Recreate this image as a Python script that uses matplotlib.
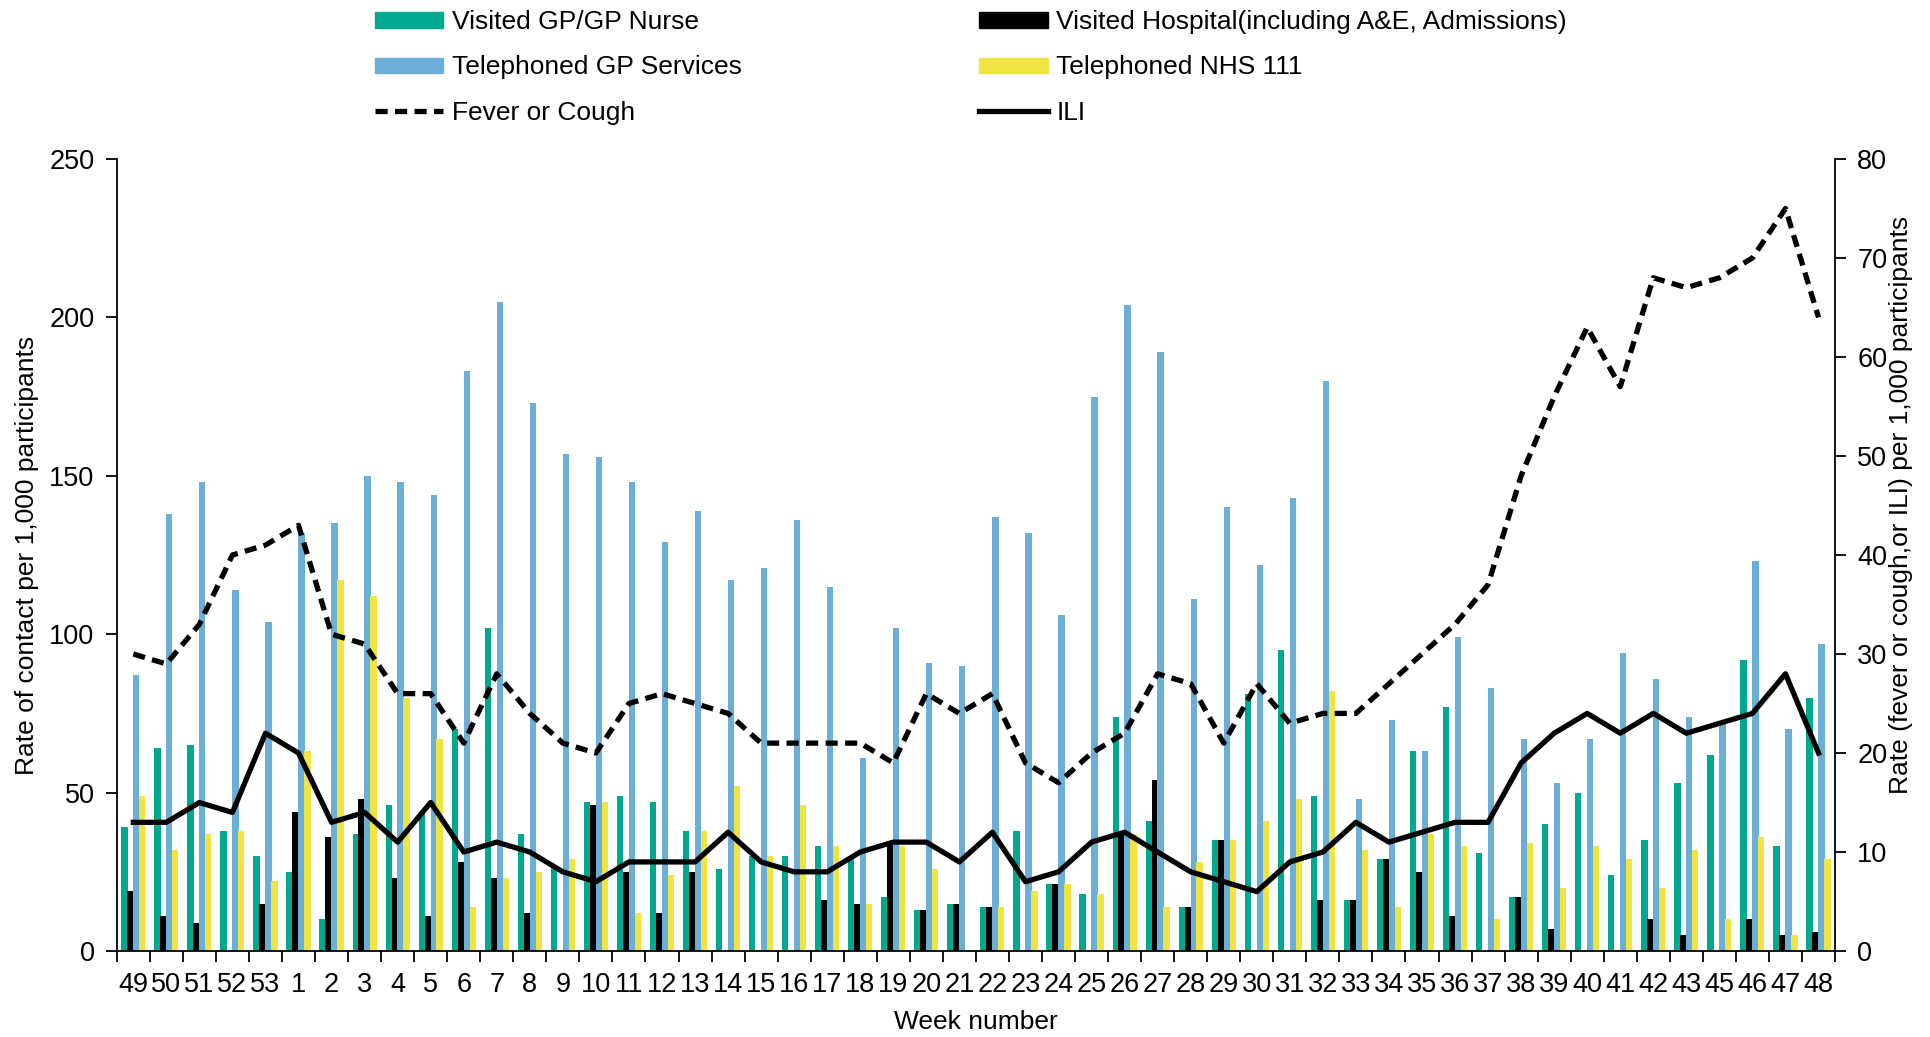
import matplotlib
matplotlib.use('Agg')
import matplotlib.pyplot as plt
from matplotlib.lines import Line2D
from matplotlib.patches import Patch
import numpy as np

plt.rcParams['font.family'] = ['Liberation Sans', 'DejaVu Sans']

# week labels (no week 44 in the data)
weeks = ['49', '50', '51', '52', '53'] + [str(w) for w in range(1, 44)] + ['45', '46', '47', '48']

visited_gp = [39, 64, 65, 38, 30, 25, 10, 37, 46, 44, 70, 102, 37, 27, 47, 49, 47, 38, 26, 30,
              30, 33, 30, 17, 13, 15, 14, 38, 21, 18, 74, 41, 14, 35, 81, 95, 49, 16, 29, 63,
              77, 31, 17, 40, 50, 24, 35, 53, 62, 92, 33, 80]
visited_hosp = [19, 11, 9, 0, 15, 44, 36, 48, 23, 11, 28, 23, 12, 0, 46, 25, 12, 25, 0, 0,
                0, 16, 15, 34, 13, 15, 14, 0, 21, 0, 37, 54, 14, 35, 0, 0, 16, 16, 29, 25,
                11, 0, 17, 7, 0, 0, 10, 5, 0, 10, 5, 6]
tel_gp = [87, 138, 148, 114, 104, 132, 135, 150, 148, 144, 183, 205, 173, 157, 156, 148, 129, 139, 117, 121,
          136, 115, 61, 102, 91, 90, 137, 132, 106, 175, 204, 189, 111, 140, 122, 143, 180, 48, 73, 63,
          99, 83, 67, 53, 67, 94, 86, 74, 72, 123, 70, 97]
tel_111 = [49, 32, 37, 38, 22, 63, 117, 112, 80, 67, 14, 23, 25, 29, 47, 12, 24, 38, 52, 30,
           46, 33, 15, 33, 26, 0, 14, 19, 21, 18, 37, 14, 28, 35, 41, 48, 82, 32, 14, 37,
           33, 10, 34, 20, 33, 29, 20, 32, 10, 36, 5, 29]

fever_cough = [30, 29, 33, 40, 41, 43, 32, 31, 26, 26, 21, 28, 24, 21, 20, 25, 26, 25, 24, 21,
               21, 21, 21, 19, 26, 24, 26, 19, 17, 20, 22, 28, 27, 21, 27, 23, 24, 24, 27, 30,
               33, 37, 48, 56, 63, 57, 68, 67, 68, 70, 75, 64]
ili = [13, 13, 15, 14, 22, 20, 13, 14, 11, 15, 10, 11, 10, 8, 7, 9, 9, 9, 12, 9,
       8, 8, 10, 11, 11, 9, 12, 7, 8, 11, 12, 10, 8, 7, 6, 9, 10, 13, 11, 12,
       13, 13, 19, 22, 24, 22, 24, 22, 23, 24, 28, 20]

c_green = '#00A98E'
c_black = '#000000'
c_blue = '#6BAED6'
c_yellow = '#F0E442'

fs = 19
tfs = 19.5

fig = plt.figure(figsize=(19.3, 10.37), dpi=100)
ax = fig.add_axes([0.0605, 0.0829, 0.8903, 0.7638])

x = np.arange(len(weeks))
bw = 0.19
ax.bar(x - 0.27, visited_gp, bw, color=c_green, zorder=2)
ax.bar(x - 0.09, visited_hosp, bw, color=c_black, zorder=2)
ax.bar(x + 0.09, tel_gp, bw, color=c_blue, zorder=2)
ax.bar(x + 0.27, tel_111, bw, color=c_yellow, zorder=2)

ax.set_xlim(-0.5, len(weeks) - 0.5)
ax.set_ylim(0, 250)
ax.set_yticks(np.arange(0, 251, 50))
# tick marks sit between the weeks, labels in the middle
ax.set_xticks(np.arange(-0.5, len(weeks), 1.0))
ax.set_xticklabels([])
ax.set_xticks(x, minor=True)
ax.set_xticklabels(weeks, minor=True)
ax.tick_params(axis='x', which='minor', length=0, labelsize=tfs, pad=15)
ax.tick_params(axis='x', which='major', length=8, width=1.3, direction='out')
ax.tick_params(axis='y', labelsize=tfs, length=8, width=1.3, pad=8)
ax.spines['top'].set_visible(False)
ax.spines['right'].set_visible(False)
for s in ['left', 'bottom']:
    ax.spines[s].set_linewidth(1.3)
ax.set_xlabel('Week number', fontsize=fs)
ax.xaxis.set_label_coords(0.5, -0.074)
ax.set_ylabel('Rate of contact per 1,000 participants', fontsize=fs)
ax.yaxis.set_label_coords(-0.045, 0.5)

ax2 = ax.twinx()
ax2.plot(x, fever_cough, color='black', lw=3.8, dashes=(2.3, 1.4), zorder=3)
ax2.plot(x, ili, color='black', lw=3.8, zorder=3)
ax2.set_ylim(0, 80)
ax2.set_yticks(np.arange(0, 81, 10))
ax2.tick_params(axis='y', labelsize=tfs, length=8, width=1.3, pad=8)
ax2.spines['top'].set_visible(False)
ax2.spines['right'].set_linewidth(1.3)
ax2.spines['left'].set_visible(False)
ax2.spines['bottom'].set_visible(False)
ax2.set_ylabel('Rate (fever or cough,or ILI) per 1,000 participants', fontsize=fs, rotation=90)
ax2.yaxis.set_label_coords(1.0315, 0.563)

handles = [
    Patch(color=c_green), Patch(color=c_blue),
    Line2D([], [], color='black', lw=3.8, dashes=(2.3, 1.4)),
    Patch(color=c_black), Patch(color=c_yellow),
    Line2D([], [], color='black', lw=3.8),
]
labels = ['Visited GP/GP Nurse', 'Telephoned GP Services', 'Fever or Cough',
          'Visited Hospital(including A&E, Admissions)', 'Telephoned NHS 111', 'ILI']
fig.legend(handles, labels, ncol=2, loc='upper left', bbox_to_anchor=(375 / 1930, 0.990),
           frameon=False, fontsize=fs, handlelength=2.58, handleheight=0.5, handletextpad=0.34,
           columnspacing=9.0, labelspacing=0.8, borderpad=0, borderaxespad=0)

fig.savefig('out.png', dpi=100)
